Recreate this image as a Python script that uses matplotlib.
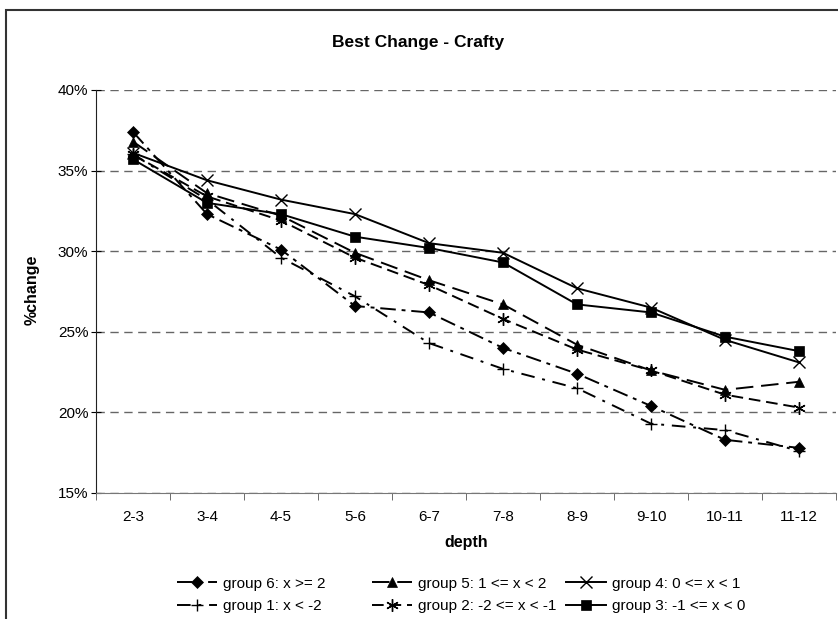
#!/usr/bin/env python3
import matplotlib
matplotlib.use("Agg")
import matplotlib.pyplot as plt
from matplotlib.ticker import FixedLocator, FuncFormatter
from matplotlib.patches import Rectangle

# depth pairs on the x axis
depths = ["2-3", "3-4", "4-5", "5-6", "6-7", "7-8", "8-9", "9-10", "10-11", "11-12"]

# % change per group
group6 = [37.4, 32.3, 30.1, 26.6, 26.2, 24.0, 22.4, 20.4, 18.3, 17.8]
group5 = [36.8, 33.6, 32.2, 29.9, 28.2, 26.7, 24.2, 22.6, 21.4, 21.9]
group4 = [36.1, 34.4, 33.2, 32.3, 30.5, 29.9, 27.7, 26.5, 24.5, 23.1]
group1 = [36.0, 33.2, 29.6, 27.2, 24.3, 22.7, 21.5, 19.3, 18.9, 17.6]
group2 = [36.0, 33.4, 31.9, 29.6, 27.9, 25.8, 23.9, 22.6, 21.1, 20.3]
group3 = [35.7, 33.0, 32.3, 30.9, 30.2, 29.3, 26.7, 26.2, 24.7, 23.8]

labels = {
    "g6": "group 6: x >= 2",
    "g5": "group 5: 1 <= x < 2",
    "g4": "group 4: 0 <= x < 1",
    "g1": "group 1: x < -2",
    "g2": "group 2: -2 <= x < -1",
    "g3": "group 3: -1 <= x < 0",
}

plt.rcParams["font.family"] = ["Liberation Sans", "DejaVu Sans"]

W, H = 838, 619
fig = plt.figure(figsize=(W / 100, H / 100), dpi=100)
ax = fig.add_axes([96 / W, 1 - 493 / H, 740 / W, 403 / H])

# outer chart border (cut off at right/bottom like the original)
fig.patches.append(Rectangle((6 / W, -0.2), 1.2, 1.2 - 10 / H,
                             transform=fig.transFigure, fill=False,
                             edgecolor="#333333", lw=1.5, clip_on=False))

x = list(range(len(depths)))
lw = 1.4

# (values, key, linestyle, marker, size)
series = [
    (group6, "g6", (0, (8, 3, 2, 3)), "D", 6),
    (group1, "g1", (0, (7, 4, 1.5, 4)), "+", 9),
    (group5, "g5", (0, (9, 4)), "^", 7),
    (group2, "g2", (0, (6, 3)), (6, 2, 0), 9),
    (group4, "g4", "-", "x", 8),
    (group3, "g3", "-", "s", 7),
]

handles = {}
for vals, key, ls, mk, ms in series:
    thin = mk in ("x", "+") or isinstance(mk, tuple)
    line, = ax.plot(x, vals, color="black", linestyle=ls, lw=lw, marker=mk,
                    markersize=ms, markeredgewidth=1.0 if thin else 0.5,
                    markerfacecolor="black", markeredgecolor="black",
                    label=labels[key])
    handles[key] = line

ax.set_xlim(-0.5, len(depths) - 0.5)
ax.set_ylim(15, 40)

ax.set_xticks(x)
ax.set_xticklabels(depths, fontsize=11)
ax.xaxis.set_minor_locator(FixedLocator([i - 0.5 for i in range(len(depths) + 1)]))
ax.tick_params(axis="x", which="major", length=0, pad=12)
ax.tick_params(axis="x", which="minor", length=5, direction="out", color="#555555")

ax.set_yticks([15, 20, 25, 30, 35, 40])
ax.yaxis.set_major_formatter(FuncFormatter(lambda v, p: f"{v:.0f}%"))
ax.tick_params(axis="y", length=7, direction="inout", labelsize=11, pad=2)

ax.grid(axis="y", linestyle=(0, (6, 4)), color="#666666", lw=1.0)
ax.set_axisbelow(True)

for side in ("top", "right"):
    ax.spines[side].set_visible(False)
ax.spines["left"].set_color("#222222")
ax.spines["bottom"].set_color("#777777")

fig.text(466 / W, 1 - 543 / H, "depth", ha="center", va="center",
         fontsize=11.5, fontweight="bold")
fig.text(32 / W, 1 - 290 / H, "%change", ha="center", va="center",
         rotation=90, fontsize=11.5, fontweight="bold")
fig.text(418 / W, 1 - 42 / H, "Best Change - Crafty", ha="center", va="center",
         fontsize=12.5, fontweight="bold")

# three legend columns, placed like the original
columns = [(("g6", "g1"), 177), (("g5", "g2"), 372), (("g4", "g3"), 566)]
for keys, xpos in columns:
    leg = fig.legend([handles[k] for k in keys], [labels[k] for k in keys],
                     loc="center left", bbox_to_anchor=(xpos / W, 1 - 595 / H),
                     frameon=False, fontsize=11, handlelength=2.6,
                     handletextpad=0.4, labelspacing=0.55, borderpad=0,
                     borderaxespad=0)

plt.savefig("out.png", dpi=100)
